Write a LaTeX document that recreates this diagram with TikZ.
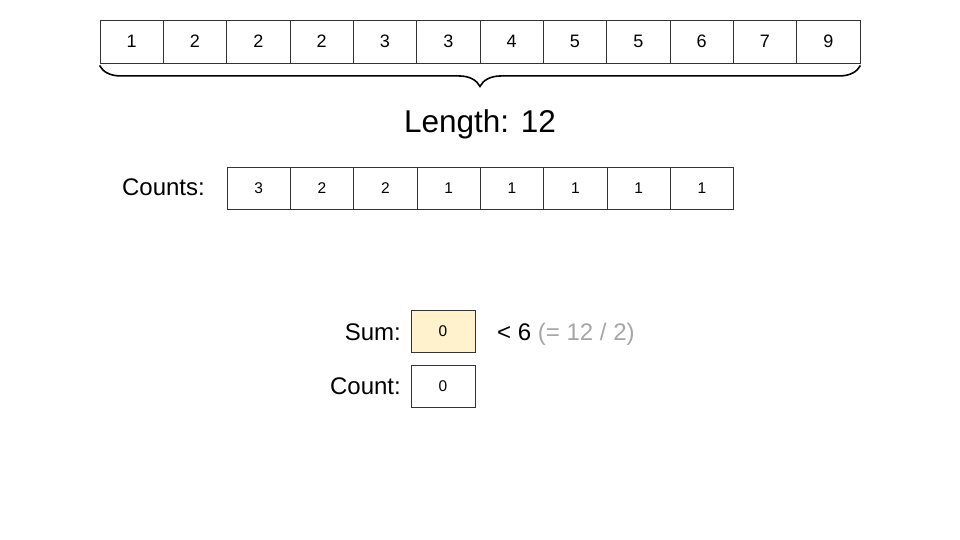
\documentclass[tikz,border=0pt]{standalone}
\usepackage{fontspec}
\setmainfont{Liberation Sans}
\usetikzlibrary{decorations.pathreplacing}
\definecolor{cellline}{HTML}{333333}
\definecolor{sumfill}{HTML}{FFF2CC}
\definecolor{graytxt}{HTML}{A6A6A6}
\tikzset{
  cell/.style={draw=cellline, line width=0.9pt, minimum width=63.33pt, minimum height=43pt, inner sep=0pt, font=\fontsize{18}{21}\selectfont},
  smallcell/.style={cell, minimum height=42pt, font=\fontsize{15.5}{18}\selectfont},
  lbl/.style={font=\fontsize{24}{28}\selectfont, inner sep=0pt},
  bigtxt/.style={font=\fontsize{31.5}{36}\selectfont, inner sep=0pt},
}
\begin{document}
\begin{tikzpicture}[x=1pt,y=1pt]
\useasboundingbox (0,0) rectangle (960,-540);
\foreach \v [count=\i] in {1,2,2,2,3,3,4,5,5,6,7,9} {
  \node[cell] (t\i) at ({100+63.33*(\i-0.5)},-41.5) {\v};
}
\draw[line width=1.6pt, decorate, decoration={brace, amplitude=21pt, mirror, raise=2pt}] (t1.south west) -- (t12.south east);
\node[bigtxt, anchor=base] (len) at (480,-133) {Length: 12};
\node[lbl, anchor=base east] (cl) at (205,-196) {Counts:};
\foreach \v [count=\i] in {3,2,2,1,1,1,1,1} {
  \node[smallcell] (c\i) at ({227+63.33*(\i-0.5)},-188) {\v};
}
\node[smallcell, minimum width=64pt, fill=sumfill] (sum) at (443,-331) {0};
\node[smallcell, minimum width=64pt] (cnt) at (443,-386) {0};
\node[lbl, anchor=base east] (suml) at (401,-340) {Sum:};
\node[lbl, anchor=base east] (cntl) at (401,-394) {Count:};
\node[lbl, anchor=base west] (cmp) at (497,-340) {< 6 \textcolor{graytxt}{(= 12 / 2)}};
\end{tikzpicture}
\end{document}
